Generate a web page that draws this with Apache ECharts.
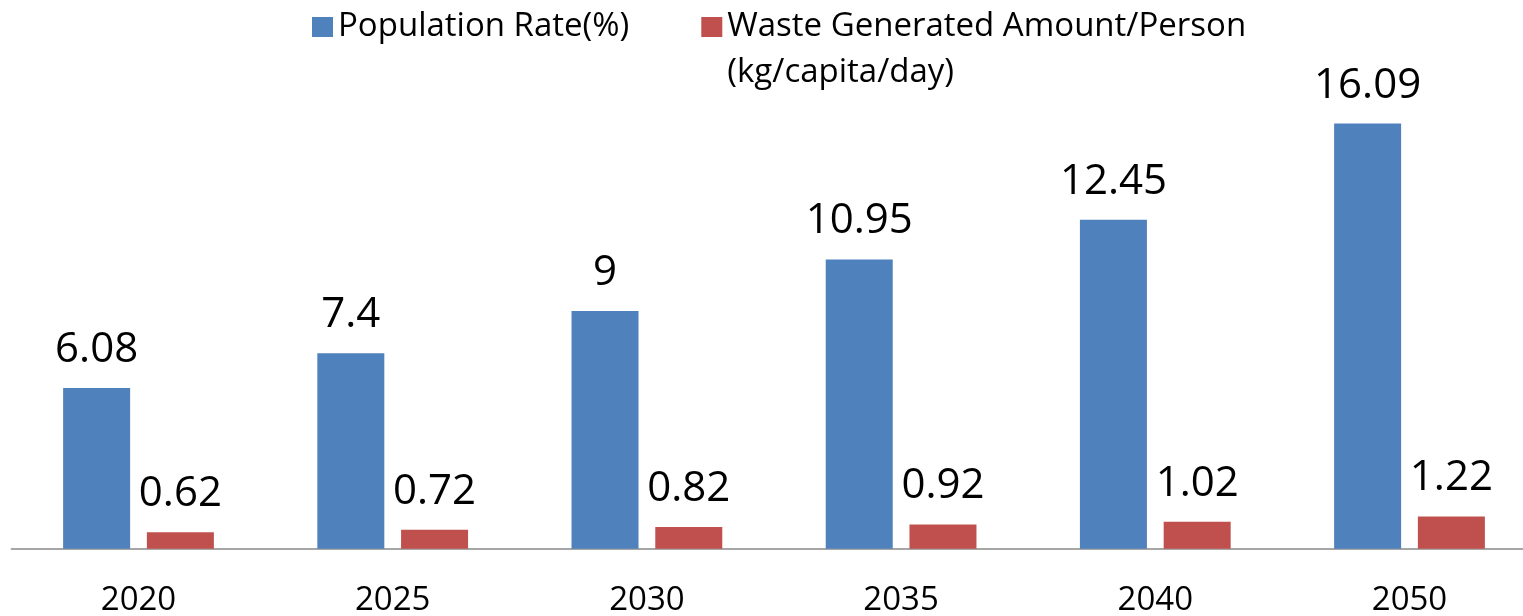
<!DOCTYPE html>
<html>
<head>
<meta charset="utf-8">
<script src="https://cdn.jsdelivr.net/npm/echarts@6/dist/echarts.min.js"></script>
<style>
html,body{margin:0;padding:0;background:#fff;}
#chart{width:1523px;height:616px;}
</style>
</head>
<body>
<div id="chart"></div>
<script>
const categories = ['2020', '2025', '2030', '2035', '2040', '2050'];
const populationRate = [6.08, 7.4, 9, 10.95, 12.45, 16.09];
const wastePerPerson = [0.62, 0.72, 0.82, 0.92, 1.02, 1.22];
const seriesNames = ['Population Rate(%)', 'Waste Generated Amount/Person\n(kg/capita/day)'];

const FONT = '"Open Sans", sans-serif';
const chart = echarts.init(document.getElementById('chart'));
chart.setOption({
  animation: false,
  backgroundColor: '#ffffff',
  textStyle: { fontFamily: FONT },
  legend: {
    left: 312,
    top: -42,
    padding: 0,
    itemWidth: 21,
    itemHeight: 20,
    itemGap: 72,
    icon: 'rect',
    // a leading empty line keeps the icon level with the first text line
    formatter: function (name) { return name === seriesNames[1] ? '\n' + name : name; },
    textStyle: { fontSize: 33, lineHeight: 46, color: '#000', fontFamily: FONT },
    data: seriesNames
  },
  grid: { left: 11.4, width: 1525.2, top: 73.1, bottom: 67.3, containLabel: false, outerBoundsMode: 'none' },
  xAxis: {
    type: 'category',
    data: categories,
    axisLine: { lineStyle: { color: '#898989', width: 1.5 } },
    axisTick: { show: false },
    axisLabel: { fontSize: 33, color: '#000', margin: 35, fontFamily: FONT }
  },
  yAxis: {
    type: 'value',
    min: 0,
    max: 18,
    show: false,
    splitLine: { show: false }
  },
  series: [
    {
      name: seriesNames[0],
      type: 'bar',
      data: populationRate,
      barWidth: 67,
      barGap: '25%',
      itemStyle: { color: '#4F81BD' },
      label: { show: true, position: 'top', distance: 17, fontSize: 42, color: '#000', fontFamily: FONT }
    },
    {
      name: seriesNames[1],
      type: 'bar',
      data: wastePerPerson,
      barWidth: 67,
      barGap: '25%',
      itemStyle: { color: '#C0504D' },
      label: { show: true, position: 'top', distance: 17, fontSize: 42, color: '#000', fontFamily: FONT }
    }
  ]
});
</script>
</body>
</html>
